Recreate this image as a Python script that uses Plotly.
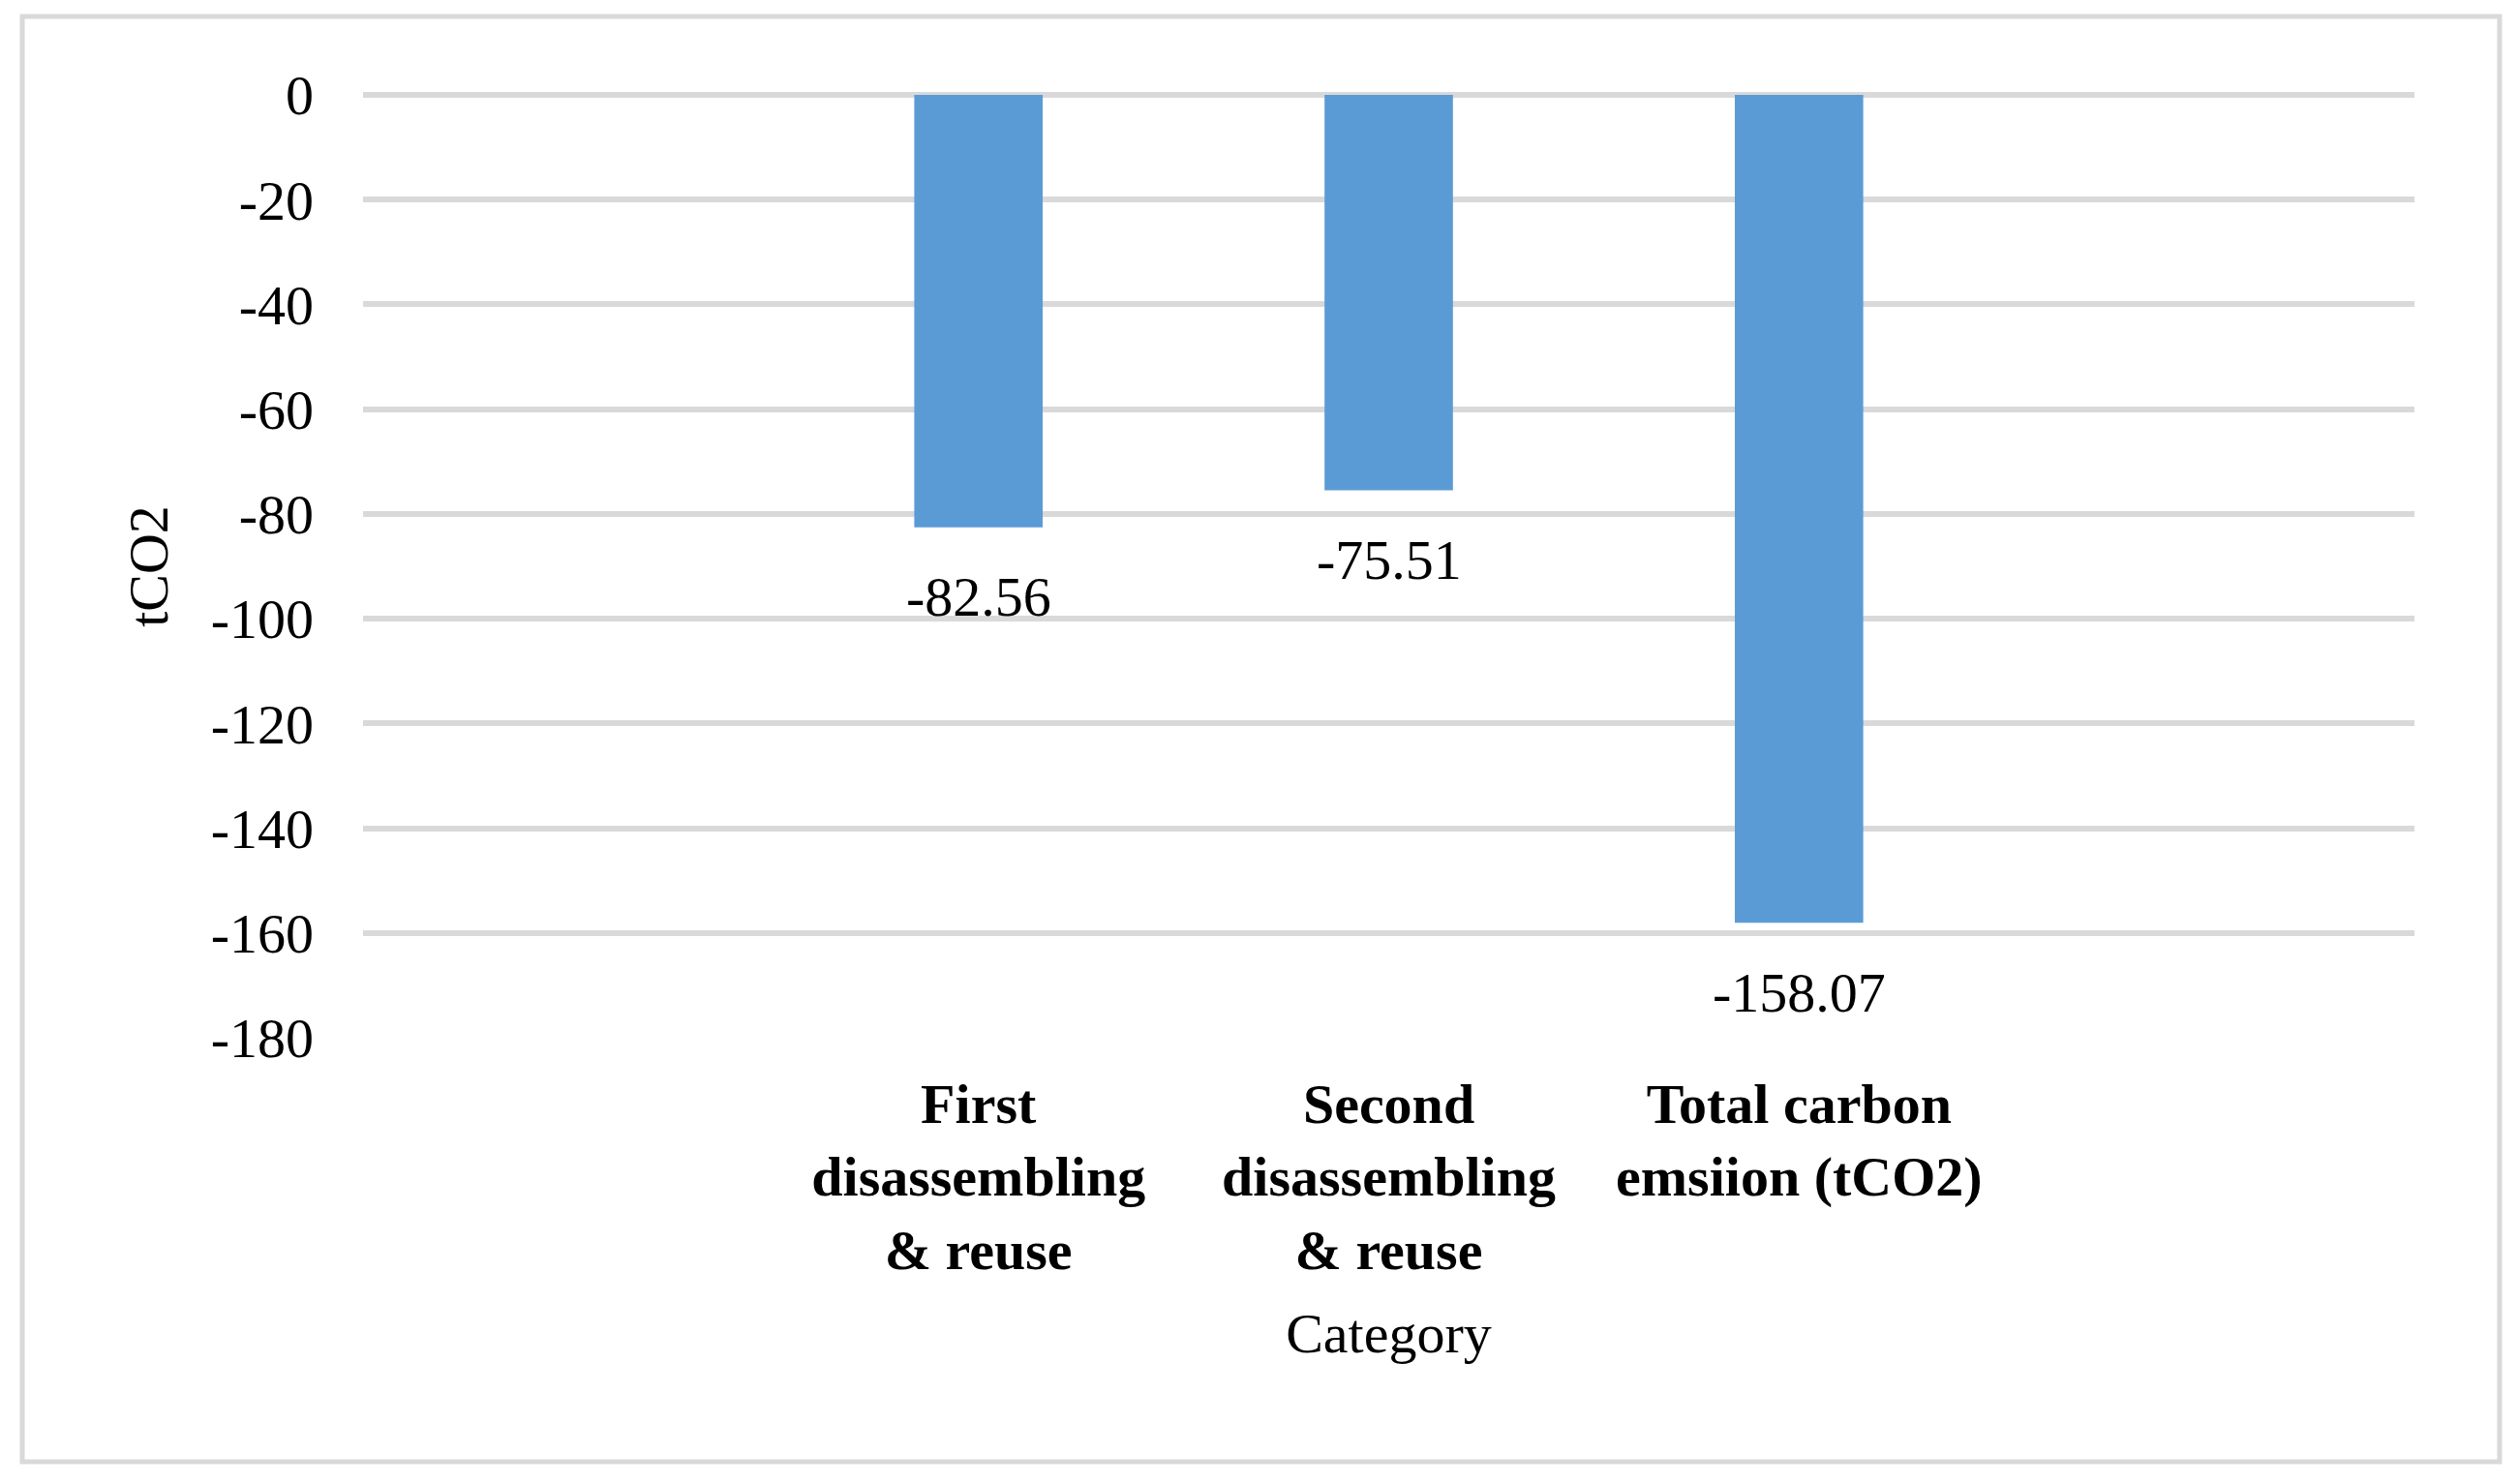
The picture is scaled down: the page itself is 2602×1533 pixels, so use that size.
import plotly.graph_objects as go

categories = ["", "First<br>disassembling<br>& reuse", "Second<br>disassembling<br>& reuse",
              "Total carbon<br>emsiion (tCO2)", ""]
values = [None, -82.56, -75.51, -158.07, None]
label_texts = ["", "-82.56", "-75.51", "-158.07", ""]
y_ticks = [0, -20, -40, -60, -80, -100, -120, -140, -160, -180]

positions = list(range(len(categories)))
FONT = "Liberation Serif, Times New Roman, serif"

fig = go.Figure()
fig.add_trace(go.Bar(
    x=positions, y=values, marker=dict(color="#5b9bd5", line=dict(width=0)),
    hoverinfo="skip", showlegend=False,
))

for p, v, t in zip(positions, values, label_texts):
    if v is None:
        continue
    fig.add_annotation(x=p, y=v, text=t, showarrow=False, xref="x", yref="y",
                       yanchor="middle", yshift=-72,
                       font=dict(family=FONT, size=58, color="#000000"))

fig.update_layout(
    width=2586, height=1517,
    margin=dict(l=367, r=100, t=90, b=453),
    paper_bgcolor="white", plot_bgcolor="white",
    bargap=0.687,
    font=dict(family=FONT, size=58, color="#000000"),
    xaxis=dict(
        tickmode="array", tickvals=positions, ticktext=categories,
        range=[-0.5, len(categories) - 0.5],
        showgrid=False, zeroline=False, showline=False, ticks="",
        tickfont=dict(family=FONT, size=58, color="#000000", weight="bold"),
        ticklabelstandoff=29,
        title=dict(text="Category", font=dict(family=FONT, size=58, color="#000000"), standoff=33),
    ),
    yaxis=dict(
        range=[-180, 0], tickvals=y_ticks, ticktext=[str(v) for v in y_ticks],
        showgrid=True, gridcolor="#d9d9d9", gridwidth=5.5,
        zeroline=True, zerolinecolor="#d9d9d9", zerolinewidth=5.5,
        showline=False, ticks="",
        tickfont=dict(family=FONT, size=58, color="#000000"),
        ticklabelstandoff=50,
        title=dict(text="tCO2", font=dict(family=FONT, size=58, color="#000000"), standoff=25),
    ),
    shapes=[dict(type="rect", xref="paper", yref="paper",
                 x0=-0.1661, x1=1.0415, y0=-0.4497, y1=1.0832,
                 line=dict(color="#d9d9d9", width=5), fillcolor="rgba(0,0,0,0)", layer="below")],
)

fig.write_html("out.html")
